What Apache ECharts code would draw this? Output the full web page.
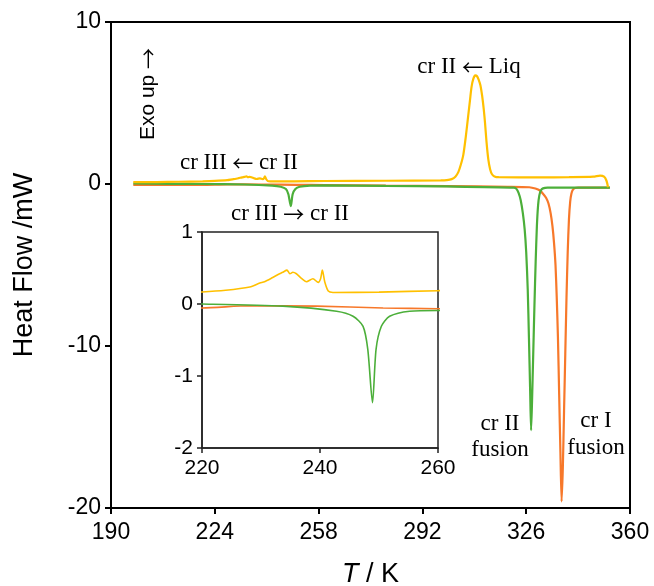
<!DOCTYPE html>
<html>
<head>
<meta charset="utf-8">
<script src="https://cdn.jsdelivr.net/npm/echarts@6/dist/echarts.min.js"></script>
<style>
  html, body { margin: 0; padding: 0; background: #fff; }
  #chart { width: 654px; height: 586px; }
</style>
</head>
<body>
<div id="chart"></div>
<script>
// DSC curves, [T / K, heat flow / mW]
var coolingLiq = [
  [197.3, 0.11], [205, 0.12], [212, 0.14], [220, 0.167], [224, 0.19], [228.1, 0.236],
  [229.8, 0.29], [230.6, 0.31], [231.8, 0.36], [232.9, 0.41], [233.7, 0.44], [234.4, 0.47],
  [234.9, 0.42], [235.4, 0.44], [236, 0.42], [236.8, 0.36], [237.7, 0.31], [238.8, 0.35],
  [239.7, 0.3], [240.1, 0.35], [240.4, 0.47], [240.8, 0.31], [241.4, 0.18], [242.2, 0.16],
  [250, 0.165], [260, 0.185], [280, 0.2], [298, 0.22], [300, 0.24], [301.6, 0.3],
  [302.8, 0.45], [303.8, 0.75], [304.6, 1.2], [305.4, 1.8], [306.2, 2.9], [307, 4.2],
  [307.6, 5.2], [308.1, 6.0], [308.7, 6.5], [309.3, 6.7], [309.9, 6.65], [310.5, 6.4],
  [311, 6.1], [311.6, 5.4], [312.1, 4.6], [312.5, 3.8], [313, 2.6], [313.6, 1.5],
  [314.2, 0.9], [314.8, 0.6], [315.6, 0.47], [317, 0.42], [330, 0.41], [340, 0.42],
  [348, 0.45], [350.2, 0.52], [351.5, 0.45], [352.3, 0.2], [352.8, -0.2]
];
var heatingCrII = [
  [197.3, 0.03], [210, 0.01], [220, 0], [233.7, -0.03], [242.8, -0.1], [245.6, -0.17],
  [247.3, -0.31], [248.1, -0.63], [248.9, -1.37], [249.5, -0.63], [250.4, -0.31], [251.8, -0.17],
  [255.2, -0.1], [260, -0.09], [280, -0.12], [300, -0.15], [322, -0.22], [322.8, -0.3],
  [323.5, -0.55], [324.2, -1.0], [324.9, -1.8], [325.5, -2.8], [326, -4.2], [326.5, -6.5],
  [326.9, -9.5], [327.3, -12.8], [327.6, -15.2], [327.9, -13.5], [328.3, -10.5], [328.7, -7.5],
  [329.1, -4.8], [329.5, -2.6], [329.9, -1.3], [330.3, -0.7], [330.8, -0.4], [331.5, -0.27],
  [333, -0.22], [353.4, -0.22]
];
var heatingCrI = [
  [197.3, -0.05], [205, -0.05], [220, -0.055], [228, -0.025], [239.4, -0.03], [250.7, -0.055],
  [260, -0.065], [280, -0.1], [300, -0.13], [320, -0.17], [327, -0.2], [329, -0.28],
  [330.5, -0.4], [331.5, -0.6], [332.5, -0.85], [333.3, -1.2], [334, -1.8], [334.6, -2.6],
  [335.1, -3.6], [335.6, -5], [336, -7], [336.4, -9.5], [336.8, -13], [337.2, -16.5],
  [337.6, -19.6], [338, -17.5], [338.4, -14], [338.8, -10.5], [339.2, -7], [339.6, -4.2],
  [340, -2.2], [340.4, -1.1], [340.8, -0.6], [341.3, -0.35], [342, -0.25], [343, -0.22],
  [353.4, -0.22]
];
var mainXTicks = [190, 224, 258, 292, 326, 360];

var colYellow = '#FFC000', colGreen = '#4CAF3A', colOrange = '#F7782A';
var sans = 'Liberation Sans', serif = 'Liberation Serif';

var chart = echarts.init(document.getElementById('chart'));

function line(data, color, width, idx, z) {
  return {
    type: 'line', data: data, xAxisIndex: idx, yAxisIndex: idx,
    showSymbol: false, smooth: 0.25, z: z,
    lineStyle: { color: color, width: width }, animation: false
  };
}

// serif annotation, arrows drawn wide like the Symbol font ones
var arrowRich = {
  a: { fontFamily: 'Noto Sans CJK SC', fontSize: 21, color: '#000' }
};
function txt(x, y, s, size) {
  return {
    type: 'text', x: x, y: y, z: 100,
    style: { text: s, font: size + 'px "' + serif + '"', fill: '#000',
             align: 'center', verticalAlign: 'middle', rich: arrowRich }
  };
}

var option = {
  backgroundColor: '#fff',
  animation: false,
  grid: [
    { left: 111, top: 22, right: 24, bottom: 78, outerBoundsMode: 'none', show: true, borderColor: '#000', borderWidth: 2, backgroundColor: 'transparent' },
    { left: 202, top: 232, width: 236, height: 216, outerBoundsMode: 'none', show: true, borderColor: '#222', borderWidth: 1.5, backgroundColor: '#fff', z: 5 }
  ],
  xAxis: [
    {
      type: 'value', gridIndex: 0, min: 190, max: 360,
      name: '{i|T} / K', nameLocation: 'middle', nameGap: 53,
      nameTextStyle: { fontFamily: sans, fontSize: 27, color: '#000',
        rich: { i: { fontFamily: sans, fontSize: 27, fontStyle: 'italic', color: '#000' } } },
      axisLine: { onZero: false, lineStyle: { color: '#000', width: 2 } },
      axisTick: { customValues: mainXTicks, length: 6, lineStyle: { color: '#000', width: 2 } },
      axisLabel: { customValues: mainXTicks, fontFamily: sans, fontSize: 23, color: '#000', margin: 13 },
      splitLine: { show: false }
    },
    {
      type: 'value', gridIndex: 1, min: 220, max: 260, interval: 20,
      axisLine: { onZero: false, lineStyle: { color: '#222', width: 1.5 } },
      axisTick: { length: 5, lineStyle: { color: '#222', width: 1.5 } },
      axisLabel: { fontFamily: sans, fontSize: 21, color: '#000', margin: 10 },
      splitLine: { show: false }, z: 6
    }
  ],
  yAxis: [
    {
      type: 'value', gridIndex: 0, min: -20, max: 10, interval: 10,
      name: 'Heat Flow /mW', nameLocation: 'middle', nameGap: 73,
      nameTextStyle: { fontFamily: sans, fontSize: 27, color: '#000' },
      axisLine: { show: true, onZero: false, lineStyle: { color: '#000', width: 2 } },
      axisTick: { show: true, length: 6, lineStyle: { color: '#000', width: 2 } },
      axisLabel: { fontFamily: sans, fontSize: 23, color: '#000', margin: 10 },
      splitLine: { show: false }
    },
    {
      type: 'value', gridIndex: 1, min: -2, max: 1, interval: 1,
      axisLine: { show: true, onZero: false, lineStyle: { color: '#222', width: 1.5 } },
      axisTick: { show: true, length: 5, lineStyle: { color: '#222', width: 1.5 } },
      axisLabel: { fontFamily: sans, fontSize: 21, color: '#000', margin: 9 },
      splitLine: { show: false }, z: 6
    }
  ],
  series: [
    line(heatingCrI, colOrange, 2.2, 0, 2),
    line(heatingCrII, colGreen, 2.2, 0, 3),
    line(coolingLiq, colYellow, 2.2, 0, 4),
    line(heatingCrI, colOrange, 1.6, 1, 7),
    line(heatingCrII, colGreen, 1.6, 1, 8),
    line(coolingLiq, colYellow, 1.6, 1, 9)
  ],
  graphic: [
    {
      type: 'text', x: 148, y: 94, rotation: Math.PI / 2, z: 100,
      style: { text: 'Exo up {a|\u2192}', font: '21px "' + sans + '"', fill: '#000',
               align: 'center', verticalAlign: 'middle',
               rich: { a: { fontFamily: 'Noto Sans CJK SC', fontSize: 21, color: '#000' } } }
    },
    txt(469, 67, 'cr II {a|\u2190} Liq', 23),
    txt(239, 163, 'cr III {a|\u2190} cr II', 23),
    txt(290, 214, 'cr III {a|\u2192} cr II', 23),
    txt(500, 424, 'cr II', 23),
    txt(500, 450, 'fusion', 23),
    txt(596, 421, 'cr I', 23),
    txt(596, 448, 'fusion', 23)
  ]
};
chart.setOption(option);
</script>
</body>
</html>
